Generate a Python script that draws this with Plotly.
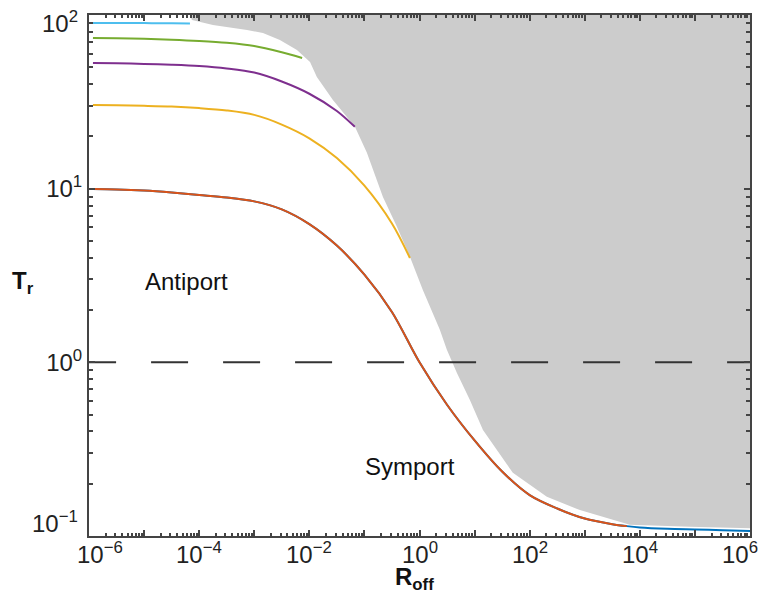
import plotly.graph_objects as go

# ---- data (R_off, T_r) ----
R_lightblue = [1.18e-6, 1e-5, 3.2e-5, 6.8e-5]
T_lightblue = [90.0, 89.8, 89.6, 89.3]

R_green = [1.18e-6, 3.16e-6, 1e-5, 3.16e-5, 1e-4, 3.16e-4, 1e-3, 3.16e-3, 7.4e-3]
T_green = [73.8, 73.4, 72.9, 72.1, 70.9, 69.2, 66.3, 61.0, 56.6]

R_purple = [1.18e-6, 3.16e-6, 1e-5, 3.16e-5, 1e-4, 3.16e-4, 1e-3, 3.16e-3, 1e-2, 3.16e-2, 6.7e-2]
T_purple = [52.9, 52.7, 52.3, 51.7, 50.8, 49.2, 46.6, 41.4, 35.2, 28.0, 22.7]

R_yellow = [1.18e-6, 3.16e-6, 1e-5, 3.16e-5, 1e-4, 3.16e-4, 1e-3, 3.16e-3, 1e-2, 3.16e-2,
            0.1, 0.316, 0.67]
T_yellow = [30.3, 30.2, 30.0, 29.7, 29.1, 28.2, 26.6, 23.4, 19.5, 15.0,
            10.4, 6.3, 3.99]

R_red = [1.18e-6, 3.16e-6, 1e-5, 3.16e-5, 1e-4, 3.16e-4, 1e-3, 3.16e-3, 1e-2, 3.16e-2,
         0.1, 0.316, 1.0, 3.16, 10, 31.6, 100, 316, 1000, 3160, 5800]
T_red = [9.96, 9.9, 9.75, 9.5, 9.2, 8.9, 8.45, 7.6, 6.25, 4.7,
         3.2, 1.95, 1.0, 0.57, 0.355, 0.235, 0.172, 0.144, 0.126, 0.117, 0.114]

R_blue = R_red + [1e4, 3.16e4, 1e5, 3.16e5, 1e6]
T_blue = T_red + [0.112, 0.110, 0.109, 0.108, 0.107]

R_bound = [6.8e-5, 7.4e-5, 1.78e-4, 7.4e-4, 1.44e-3, 2.92e-3, 5.96e-3, 1.03e-2, 1.37e-2,
           2.68e-2, 6.73e-2, 0.111, 0.217, 0.389, 0.67, 1.15, 2.34, 3.14, 4.78, 8.22,
           14.2, 25.4, 49.5, 205, 815, 3240, 6580, 8.07e4, 1e6]
T_bound = [100, 93.5, 87.6, 82.0, 78.7, 71.8, 62.9, 53.6, 44.0,
           32.4, 22.7, 16.1, 8.95, 6.03, 4.05, 2.61, 1.54, 1.18, 0.869, 0.607,
           0.408, 0.313, 0.231, 0.168, 0.141, 0.124, 0.116, 0.113, 0.111]

dash_level = 1.0
dash_R = [10 ** -6.18, 1e6]

x_exponents = list(range(-6, 7))
x_label_exponents = [-6, -4, -2, 0, 2, 4, 6]
y_exponents = [-1, 0, 1, 2]


def power_label(e):
    return "10<sup>%s</sup>" % (("\u2212%d" % -e) if e < 0 else "%d" % e)


x_major = [10.0 ** e for e in x_exponents]
y_major = [10.0 ** e for e in y_exponents]
# end labels of the y axis are drawn separately (nudged inward like the original)
y_text = ["" if e in (-1, 2) else power_label(e) for e in y_exponents]

x_minor = [k * 10.0 ** e for e in range(-6, 6) for k in range(2, 10)]
y_minor = [k * 10.0 ** e for e in range(-1, 2) for k in range(2, 10)]

FONT = "Arial, Liberation Sans, sans-serif"
AX = "#444444"
TXT = "#222222"

fig = go.Figure()

# gray region
fig.add_trace(go.Scatter(
    x=R_bound + [1e6, R_bound[0]], y=T_bound + [100, 100],
    mode="lines", fill="toself", fillcolor="#cccccc",
    line=dict(width=0, color="#cccccc"), hoverinfo="skip", showlegend=False))

# dashed reference
fig.add_trace(go.Scatter(
    x=dash_R, y=[dash_level, dash_level], mode="lines",
    line=dict(color="#333333", width=2, dash="37px,35px"), showlegend=False))

series = [
    (R_blue, T_blue, "#0072BD"),
    (R_red, T_red, "#D95319"),
    (R_yellow, T_yellow, "#EDB120"),
    (R_purple, T_purple, "#7E2F8E"),
    (R_green, T_green, "#77AC30"),
    (R_lightblue, T_lightblue, "#4DBEEE"),
]
for xs, ys, c in series:
    fig.add_trace(go.Scatter(x=xs, y=ys, mode="lines",
                             line=dict(color=c, width=2, shape="spline", smoothing=0.9),
                             showlegend=False))

# x tick labels (log axis -> annotation x is the exponent)
for e in x_label_exponents:
    shift = 11 if e == -6 else (-10 if e == 6 else 0)
    fig.add_annotation(text=power_label(e), xref="x", yref="paper", x=e, y=0.0,
                       xanchor="center", yanchor="top", xshift=shift, showarrow=False,
                       font=dict(family=FONT, size=24, color=TXT))

# y end labels
for e, ys in ((2, -7), (-1, 14)):
    fig.add_annotation(text=power_label(e), xref="paper", yref="y", x=-0.014, y=e,
                       xanchor="right", yanchor="middle", yshift=ys, showarrow=False,
                       font=dict(family=FONT, size=24, color=TXT))

fig.add_annotation(text="Antiport", xref="paper", yref="paper", x=0.148, y=0.489,
                   xanchor="center", yanchor="middle",
                   showarrow=False, font=dict(family=FONT, size=24, color="#111"))
fig.add_annotation(text="Symport", xref="paper", yref="paper", x=0.4856, y=0.134,
                   xanchor="center", yanchor="middle",
                   showarrow=False, font=dict(family=FONT, size=24, color="#111"))
fig.add_annotation(text="<b>T<sub>r</sub></b>", xref="paper", yref="paper", x=-0.1195, y=0.4875,
                   xanchor="left", yanchor="middle",
                   showarrow=False, font=dict(family=FONT, size=24, color="#111"))
fig.add_annotation(text="<b>R<sub>off</sub></b>", xref="paper", yref="paper", x=0.493, y=-0.081,
                   xanchor="center", yanchor="middle",
                   showarrow=False, font=dict(family=FONT, size=24, color="#111"))

fig.update_layout(
    width=763, height=592,
    margin=dict(l=89, r=13, t=15, b=56),
    plot_bgcolor="white", paper_bgcolor="white",
    font=dict(family=FONT, size=24, color=TXT),
    xaxis=dict(type="log", range=[-6, 6], showgrid=False, zeroline=False, automargin=False,
               showline=True, linecolor=AX, linewidth=2, mirror="ticks",
               ticks="inside", ticklen=6, tickwidth=1.5, tickcolor=AX,
               tickmode="array", tickvals=x_major, showticklabels=False,
               minor=dict(ticks="inside", ticklen=3, tickcolor=AX, tickmode="array", tickvals=x_minor, showgrid=False)),
    yaxis=dict(type="log", range=[-1, 2], showgrid=False, zeroline=False, automargin=False,
               showline=True, linecolor=AX, linewidth=2, mirror="ticks",
               ticks="inside", ticklen=6, tickwidth=1.5, tickcolor=AX,
               tickmode="array", tickvals=y_major, ticktext=y_text,
               ticklabeloverflow="allow",
               minor=dict(ticks="inside", ticklen=4, tickcolor=AX, tickmode="array", tickvals=y_minor, showgrid=False)),
)

fig.write_html("out.html")
